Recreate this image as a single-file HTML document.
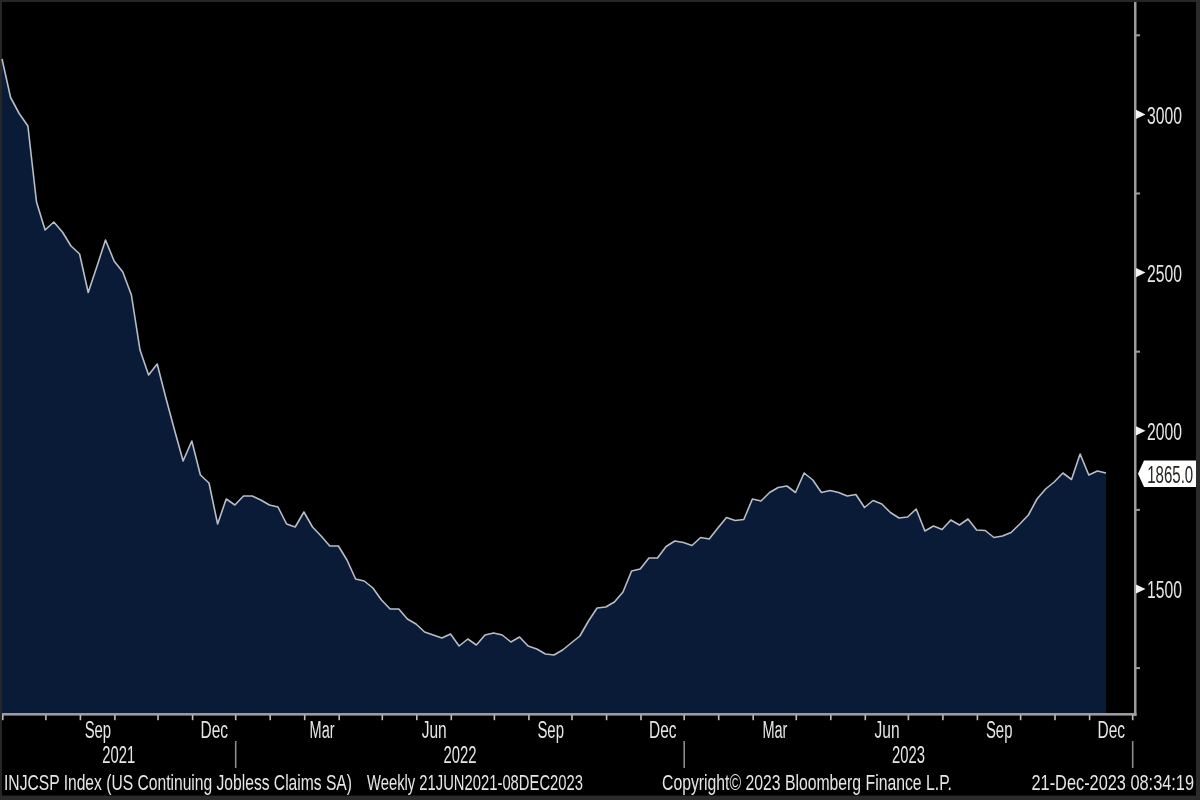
<!DOCTYPE html>
<html lang="en"><head><meta charset="utf-8"><title>INJCSP Index</title>
<style>html,body{margin:0;padding:0;background:#000;overflow:hidden}svg{display:block;filter:blur(0.75px)}</style></head>
<body>
<svg width="1200" height="800" viewBox="0 0 1200 800">
<rect width="1200" height="800" fill="#000"/>
<rect x="0" y="0" width="1200" height="2" fill="#262626"/>
<rect x="0" y="0" width="2" height="800" fill="#262626"/>
<rect x="1196" y="0" width="4" height="800" fill="#2b2b2b"/>
<rect x="0" y="795.6" width="1200" height="4.4" fill="#2b2b2b"/>
<path d="M2.0,714 L2.0,59.0 L10.6,97.5 L19.2,113.5 L27.9,126.0 L36.5,202.0 L45.1,230.0 L53.8,222.0 L62.4,232.0 L71.0,246.0 L79.6,254.0 L88.2,292.5 L96.9,266.5 L105.5,240.0 L114.1,261.0 L122.8,272.0 L131.4,295.0 L140.0,350.0 L148.6,375.0 L157.2,364.0 L165.9,398.0 L174.5,430.0 L183.1,461.0 L191.8,441.0 L200.4,475.0 L209.0,483.0 L217.6,524.0 L226.2,499.0 L234.9,505.0 L243.5,496.0 L252.1,496.0 L260.8,500.0 L269.4,505.0 L278.0,507.0 L286.6,524.0 L295.2,527.0 L303.9,512.0 L312.5,527.0 L321.1,536.0 L329.8,546.0 L338.4,546.0 L347.0,560.0 L355.6,579.0 L364.2,581.0 L372.9,588.0 L381.5,600.0 L390.1,609.0 L398.8,609.0 L407.4,619.0 L416.0,624.0 L424.6,632.0 L433.2,635.0 L441.9,638.0 L450.5,634.0 L459.1,646.0 L467.8,639.0 L476.4,645.0 L485.0,635.0 L493.6,633.0 L502.2,635.0 L510.9,642.0 L519.5,637.0 L528.1,646.0 L536.8,649.0 L545.4,654.0 L554.0,655.0 L562.6,650.0 L571.2,643.0 L579.9,636.0 L588.5,621.0 L597.1,608.0 L605.8,607.0 L614.4,602.0 L623.0,592.0 L631.6,571.0 L640.2,569.0 L648.9,558.0 L657.5,558.0 L666.1,546.5 L674.8,541.0 L683.4,542.5 L692.0,545.5 L700.6,537.5 L709.2,539.0 L717.9,528.0 L726.5,517.5 L735.1,520.5 L743.8,519.5 L752.4,499.0 L761.0,501.0 L769.6,492.5 L778.2,487.5 L786.9,486.0 L795.5,492.5 L804.1,473.0 L812.8,480.0 L821.4,492.5 L830.0,490.5 L838.6,492.5 L847.2,496.0 L855.9,494.5 L864.5,507.5 L873.1,500.5 L881.8,504.0 L890.4,512.5 L899.0,518.0 L907.6,517.0 L916.2,509.0 L924.9,531.0 L933.5,526.0 L942.1,529.5 L950.8,520.0 L959.4,525.0 L968.0,519.0 L976.6,530.0 L985.2,530.5 L993.9,537.5 L1002.5,536.0 L1011.1,532.5 L1019.8,524.0 L1028.4,515.0 L1037.0,499.0 L1045.6,489.0 L1054.2,482.0 L1062.9,473.0 L1071.5,479.5 L1080.1,454.0 L1088.8,475.0 L1097.4,471.0 L1106.0,473.0 L1106.0,714 Z" fill="#091b36"/>
<polyline points="2.0,59.0 10.6,97.5 19.2,113.5 27.9,126.0 36.5,202.0 45.1,230.0 53.8,222.0 62.4,232.0 71.0,246.0 79.6,254.0 88.2,292.5 96.9,266.5 105.5,240.0 114.1,261.0 122.8,272.0 131.4,295.0 140.0,350.0 148.6,375.0 157.2,364.0 165.9,398.0 174.5,430.0 183.1,461.0 191.8,441.0 200.4,475.0 209.0,483.0 217.6,524.0 226.2,499.0 234.9,505.0 243.5,496.0 252.1,496.0 260.8,500.0 269.4,505.0 278.0,507.0 286.6,524.0 295.2,527.0 303.9,512.0 312.5,527.0 321.1,536.0 329.8,546.0 338.4,546.0 347.0,560.0 355.6,579.0 364.2,581.0 372.9,588.0 381.5,600.0 390.1,609.0 398.8,609.0 407.4,619.0 416.0,624.0 424.6,632.0 433.2,635.0 441.9,638.0 450.5,634.0 459.1,646.0 467.8,639.0 476.4,645.0 485.0,635.0 493.6,633.0 502.2,635.0 510.9,642.0 519.5,637.0 528.1,646.0 536.8,649.0 545.4,654.0 554.0,655.0 562.6,650.0 571.2,643.0 579.9,636.0 588.5,621.0 597.1,608.0 605.8,607.0 614.4,602.0 623.0,592.0 631.6,571.0 640.2,569.0 648.9,558.0 657.5,558.0 666.1,546.5 674.8,541.0 683.4,542.5 692.0,545.5 700.6,537.5 709.2,539.0 717.9,528.0 726.5,517.5 735.1,520.5 743.8,519.5 752.4,499.0 761.0,501.0 769.6,492.5 778.2,487.5 786.9,486.0 795.5,492.5 804.1,473.0 812.8,480.0 821.4,492.5 830.0,490.5 838.6,492.5 847.2,496.0 855.9,494.5 864.5,507.5 873.1,500.5 881.8,504.0 890.4,512.5 899.0,518.0 907.6,517.0 916.2,509.0 924.9,531.0 933.5,526.0 942.1,529.5 950.8,520.0 959.4,525.0 968.0,519.0 976.6,530.0 985.2,530.5 993.9,537.5 1002.5,536.0 1011.1,532.5 1019.8,524.0 1028.4,515.0 1037.0,499.0 1045.6,489.0 1054.2,482.0 1062.9,473.0 1071.5,479.5 1080.1,454.0 1088.8,475.0 1097.4,471.0 1106.0,473.0" fill="none" stroke="#b8bec8" stroke-width="1.6" stroke-linejoin="round"/>
<rect x="1134" y="2" width="2.5" height="714" fill="#9c9c9c"/>
<rect x="2" y="713" width="1134.5" height="2.6" fill="#9c9c9c"/>
<rect x="2.0" y="715" width="1.6" height="5.2" fill="#bdbdbd"/>
<rect x="45.1" y="715" width="1.6" height="5.2" fill="#bdbdbd"/>
<rect x="79.6" y="715" width="1.6" height="5.2" fill="#bdbdbd"/>
<rect x="114.1" y="715" width="1.6" height="5.2" fill="#bdbdbd"/>
<rect x="157.2" y="715" width="1.6" height="5.2" fill="#bdbdbd"/>
<rect x="191.8" y="715" width="1.6" height="5.2" fill="#bdbdbd"/>
<rect x="234.9" y="715" width="1.6" height="5.2" fill="#bdbdbd"/>
<rect x="269.4" y="715" width="1.6" height="5.2" fill="#bdbdbd"/>
<rect x="303.9" y="715" width="1.6" height="5.2" fill="#bdbdbd"/>
<rect x="338.4" y="715" width="1.6" height="5.2" fill="#bdbdbd"/>
<rect x="381.5" y="715" width="1.6" height="5.2" fill="#bdbdbd"/>
<rect x="416.0" y="715" width="1.6" height="5.2" fill="#bdbdbd"/>
<rect x="450.5" y="715" width="1.6" height="5.2" fill="#bdbdbd"/>
<rect x="493.6" y="715" width="1.6" height="5.2" fill="#bdbdbd"/>
<rect x="528.1" y="715" width="1.6" height="5.2" fill="#bdbdbd"/>
<rect x="571.2" y="715" width="1.6" height="5.2" fill="#bdbdbd"/>
<rect x="605.8" y="715" width="1.6" height="5.2" fill="#bdbdbd"/>
<rect x="640.2" y="715" width="1.6" height="5.2" fill="#bdbdbd"/>
<rect x="683.4" y="715" width="1.6" height="5.2" fill="#bdbdbd"/>
<rect x="717.9" y="715" width="1.6" height="5.2" fill="#bdbdbd"/>
<rect x="752.4" y="715" width="1.6" height="5.2" fill="#bdbdbd"/>
<rect x="795.5" y="715" width="1.6" height="5.2" fill="#bdbdbd"/>
<rect x="830.0" y="715" width="1.6" height="5.2" fill="#bdbdbd"/>
<rect x="864.5" y="715" width="1.6" height="5.2" fill="#bdbdbd"/>
<rect x="907.6" y="715" width="1.6" height="5.2" fill="#bdbdbd"/>
<rect x="942.1" y="715" width="1.6" height="5.2" fill="#bdbdbd"/>
<rect x="976.6" y="715" width="1.6" height="5.2" fill="#bdbdbd"/>
<rect x="1019.8" y="715" width="1.6" height="5.2" fill="#bdbdbd"/>
<rect x="1054.2" y="715" width="1.6" height="5.2" fill="#bdbdbd"/>
<rect x="1088.8" y="715" width="1.6" height="5.2" fill="#bdbdbd"/>
<rect x="1131.9" y="715" width="1.6" height="5.2" fill="#bdbdbd"/>
<text x="97.9" y="737.8" font-family="Liberation Sans, Arial, sans-serif" font-size="23" fill="#e6e6e6" text-anchor="middle" textLength="26.5" lengthAdjust="spacingAndGlyphs">Sep</text>
<text x="214.3" y="737.8" font-family="Liberation Sans, Arial, sans-serif" font-size="23" fill="#e6e6e6" text-anchor="middle" textLength="27.5" lengthAdjust="spacingAndGlyphs">Dec</text>
<text x="322.1" y="737.8" font-family="Liberation Sans, Arial, sans-serif" font-size="23" fill="#e6e6e6" text-anchor="middle" textLength="25.0" lengthAdjust="spacingAndGlyphs">Mar</text>
<text x="434.2" y="737.8" font-family="Liberation Sans, Arial, sans-serif" font-size="23" fill="#e6e6e6" text-anchor="middle" textLength="25.0" lengthAdjust="spacingAndGlyphs">Jun</text>
<text x="550.7" y="737.8" font-family="Liberation Sans, Arial, sans-serif" font-size="23" fill="#e6e6e6" text-anchor="middle" textLength="26.5" lengthAdjust="spacingAndGlyphs">Sep</text>
<text x="662.8" y="737.8" font-family="Liberation Sans, Arial, sans-serif" font-size="23" fill="#e6e6e6" text-anchor="middle" textLength="27.5" lengthAdjust="spacingAndGlyphs">Dec</text>
<text x="774.9" y="737.8" font-family="Liberation Sans, Arial, sans-serif" font-size="23" fill="#e6e6e6" text-anchor="middle" textLength="25.0" lengthAdjust="spacingAndGlyphs">Mar</text>
<text x="887.1" y="737.8" font-family="Liberation Sans, Arial, sans-serif" font-size="23" fill="#e6e6e6" text-anchor="middle" textLength="25.0" lengthAdjust="spacingAndGlyphs">Jun</text>
<text x="999.2" y="737.8" font-family="Liberation Sans, Arial, sans-serif" font-size="23" fill="#e6e6e6" text-anchor="middle" textLength="26.5" lengthAdjust="spacingAndGlyphs">Sep</text>
<text x="1111.3" y="737.8" font-family="Liberation Sans, Arial, sans-serif" font-size="23" fill="#e6e6e6" text-anchor="middle" textLength="27.5" lengthAdjust="spacingAndGlyphs">Dec</text>
<text x="118.8" y="763.4" font-family="Liberation Sans, Arial, sans-serif" font-size="23.5" fill="#e6e6e6" text-anchor="middle" textLength="33.0" lengthAdjust="spacingAndGlyphs">2021</text>
<text x="459.9" y="763.4" font-family="Liberation Sans, Arial, sans-serif" font-size="23.5" fill="#e6e6e6" text-anchor="middle" textLength="33.0" lengthAdjust="spacingAndGlyphs">2022</text>
<text x="908.4" y="763.4" font-family="Liberation Sans, Arial, sans-serif" font-size="23.5" fill="#e6e6e6" text-anchor="middle" textLength="33.0" lengthAdjust="spacingAndGlyphs">2023</text>
<rect x="234.9" y="741" width="1.6" height="27" fill="#8a8a8a"/>
<rect x="683.4" y="741" width="1.6" height="27" fill="#8a8a8a"/>
<rect x="1131.9" y="741" width="1.6" height="27" fill="#8a8a8a"/>
<rect x="1136" y="34.3" width="4" height="2" fill="#9c9c9c"/>
<path d="M1136,109.8 L1145.5,114.4 L1136,119.0 Z" fill="#f2f2f2"/>
<text x="1147.0" y="123.5" font-family="Liberation Sans, Arial, sans-serif" font-size="24" fill="#e6e6e6" text-anchor="start" textLength="35.0" lengthAdjust="spacingAndGlyphs">3000</text>
<rect x="1136" y="192.5" width="4" height="2" fill="#9c9c9c"/>
<path d="M1136,268.0 L1145.5,272.6 L1136,277.2 Z" fill="#f2f2f2"/>
<text x="1147.0" y="281.7" font-family="Liberation Sans, Arial, sans-serif" font-size="24" fill="#e6e6e6" text-anchor="start" textLength="35.0" lengthAdjust="spacingAndGlyphs">2500</text>
<rect x="1136" y="350.7" width="4" height="2" fill="#9c9c9c"/>
<path d="M1136,426.2 L1145.5,430.8 L1136,435.4 Z" fill="#f2f2f2"/>
<text x="1147.0" y="439.9" font-family="Liberation Sans, Arial, sans-serif" font-size="24" fill="#e6e6e6" text-anchor="start" textLength="35.0" lengthAdjust="spacingAndGlyphs">2000</text>
<rect x="1136" y="508.9" width="4" height="2" fill="#9c9c9c"/>
<path d="M1136,584.4 L1145.5,589.0 L1136,593.6 Z" fill="#f2f2f2"/>
<text x="1147.0" y="598.1" font-family="Liberation Sans, Arial, sans-serif" font-size="24" fill="#e6e6e6" text-anchor="start" textLength="35.0" lengthAdjust="spacingAndGlyphs">1500</text>
<rect x="1136" y="667.1" width="4" height="2" fill="#9c9c9c"/>
<path d="M1138,473.8 L1144,460.5 L1196,460.5 L1196,487 L1144,487 Z" fill="#ffffff"/>
<text x="1147.2" y="483.0" font-family="Liberation Sans, Arial, sans-serif" font-size="24" fill="#262320" text-anchor="start" textLength="46.0" lengthAdjust="spacingAndGlyphs">1865.0</text>
<text x="4.0" y="790.3" font-family="Liberation Sans, Arial, sans-serif" font-size="22.3" fill="#e6e6e6" text-anchor="start" textLength="348.0" lengthAdjust="spacingAndGlyphs">INJCSP Index (US Continuing Jobless Claims SA)</text>
<text x="367.0" y="790.3" font-family="Liberation Sans, Arial, sans-serif" font-size="22.3" fill="#e6e6e6" text-anchor="start" textLength="216.0" lengthAdjust="spacingAndGlyphs">Weekly 21JUN2021-08DEC2023</text>
<text x="662.0" y="790.3" font-family="Liberation Sans, Arial, sans-serif" font-size="22.3" fill="#e6e6e6" text-anchor="start" textLength="290.0" lengthAdjust="spacingAndGlyphs">Copyright© 2023 Bloomberg Finance L.P.</text>
<text x="1031.5" y="790.3" font-family="Liberation Sans, Arial, sans-serif" font-size="22.3" fill="#e6e6e6" text-anchor="start" textLength="162.5" lengthAdjust="spacingAndGlyphs">21-Dec-2023 08:34:19</text>
</svg>
</body></html>
